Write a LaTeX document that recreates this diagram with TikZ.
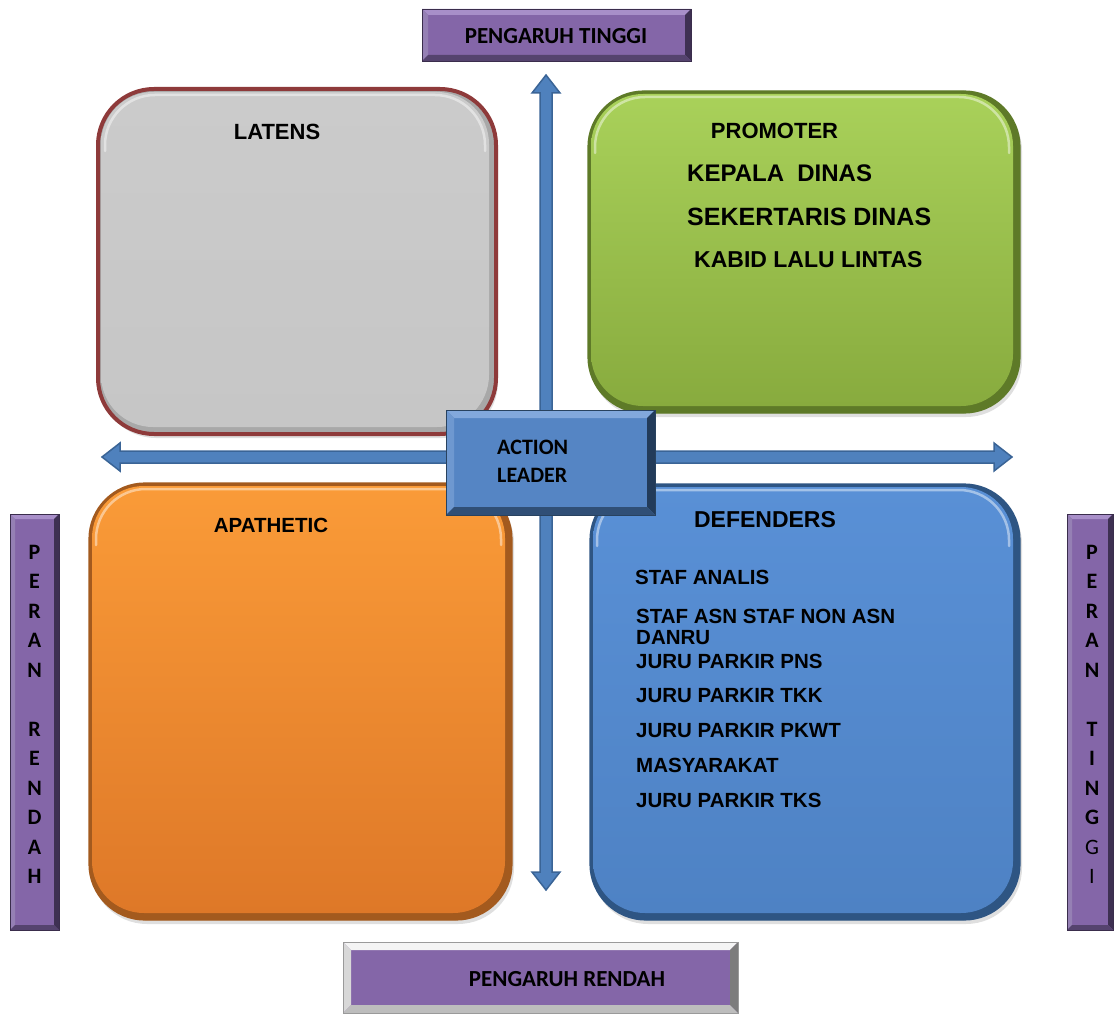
\documentclass[tikz,border=0pt]{standalone}
\usepackage{fontspec}
\setmainfont{Liberation Sans}
\newfontfamily\calfont{Carlito}
\usetikzlibrary{calc,shadows}

% palette
\definecolor{purp}{HTML}{8466A8}
\definecolor{purpT}{HTML}{A88FC9}
\definecolor{purpL}{HTML}{9580B4}
\definecolor{purpR}{HTML}{3E3052}
\definecolor{purpB}{HTML}{55436E}
\definecolor{purpE}{HTML}{3A2D4C}
\definecolor{blu}{HTML}{5585C4}
\definecolor{bluT}{HTML}{82A8DC}
\definecolor{bluL}{HTML}{6E98D0}
\definecolor{bluR}{HTML}{223B5A}
\definecolor{bluB}{HTML}{304F76}
\definecolor{bluE}{HTML}{28425F}
\definecolor{arrfill}{HTML}{4F81BD}
\definecolor{arrline}{HTML}{3A6496}
\definecolor{greyT}{HTML}{CBCBCB}
\definecolor{greyB}{HTML}{C6C6C6}
\definecolor{greyD}{HTML}{A8A8A8}
\definecolor{latborder}{HTML}{8E3A3A}
\definecolor{greenT}{HTML}{A9D15A}
\definecolor{greenB}{HTML}{88AB3E}
\definecolor{greenD}{HTML}{5E7A28}
\definecolor{orangeT}{HTML}{FA9B38}
\definecolor{orangeB}{HTML}{DE7828}
\definecolor{orangeD}{HTML}{A35A1E}
\definecolor{defT}{HTML}{5990D6}
\definecolor{defB}{HTML}{4E82C4}
\definecolor{defD}{HTML}{2E5583}
\definecolor{frameT}{HTML}{F4F4F4}
\definecolor{frameL}{HTML}{D8D8D8}
\definecolor{frameR}{HTML}{7C7C7C}
\definecolor{frameB}{HTML}{BDBDBD}
\definecolor{frameE}{HTML}{9A9A9A}

\newcommand{\fsz}[2]{\fontsize{#1}{#2}\selectfont}

\tikzset{
  % flat box with four bevelled edges: fill, top, left, right, bottom, depth
  bevel/.style n args={6}{rectangle, fill=#1, inner sep=0pt,
    path picture={
      \coordinate (bnw) at (path picture bounding box.north west);
      \coordinate (bse) at (path picture bounding box.south east);
      \fill[#2] (bnw) -- (bnw -| bse) -- ($(bnw -| bse)+(-#6,#6)$) -- ($(bnw)+(#6,#6)$) -- cycle;
      \fill[#3] (bnw) -- ($(bnw)+(#6,#6)$) -- ($(bse -| bnw)+(#6,-#6)$) -- (bse -| bnw) -- cycle;
      \fill[#4] (bnw -| bse) -- (bse) -- ($(bse)+(-#6,-#6)$) -- ($(bnw -| bse)+(-#6,#6)$) -- cycle;
      \fill[#5] (bse -| bnw) -- (bse) -- ($(bse)+(-#6,-#6)$) -- ($(bse -| bnw)+(#6,-#6)$) -- cycle;
    }},
  purplebox/.style={bevel={purp}{purpT}{purpL}{purpR}{purpB}{#1}, draw=purpE, line width=0.8pt},
  % rounded quadrant with a shaded face inside a darker rim
  quad/.style n args={4}{rounded corners=56pt, fill=#3, draw=#4, line width=1.2pt,
    drop shadow={opacity=0.25, shadow xshift=2pt, shadow yshift=-4pt},
    path picture={
      \coordinate (qnw) at (path picture bounding box.north west);
      \coordinate (qse) at (path picture bounding box.south east);
      \shade[top color=#1, bottom color=#2, rounded corners=52pt]
        ($(qnw)+(3,3)$) rectangle ($(qse)+(-7,-7)$);
      \draw[white, opacity=0.45, line width=2.5pt, rounded corners=50pt, line cap=round]
        ($(qnw)+(7,62)$) |- ($(qnw -| qse)+(-11,6)$) -- ($(qnw -| qse)+(-11,62)$);
    }},
  blockarrow/.style={fill=arrfill, draw=arrline, line width=1.5pt, line join=miter},
  title/.style={font=\bfseries\fsz{#1}{#1}, inner sep=0pt},
  item/.style={font=\bfseries\fsz{#1}{21}, inner sep=0pt, anchor=west},
  cal/.style={font=\calfont\bfseries\fsz{#1}{#1}, inner sep=0pt},
  calstack/.style={font=\calfont\bfseries\fsz{22}{#1}, inner sep=0pt},
}

\begin{document}
\begin{tikzpicture}[x=1pt,y=-1pt]
\useasboundingbox (0,0) rectangle (1115,1016);

% axis end points
\coordinate (vt) at (546,75);
\coordinate (vb) at (546,890);
\coordinate (hl) at (102,457);
\coordinate (hr) at (1012,457);

% vertical double-headed block arrow
\draw[blockarrow] (vt) -- ($(vt)+(14,18)$) -- ($(vt)+(6,18)$) -- ($(vb)+(6,-18)$)
  -- ($(vb)+(14,-18)$) -- (vb) -- ($(vb)+(-14,-18)$) -- ($(vb)+(-6,-18)$)
  -- ($(vt)+(-6,18)$) -- ($(vt)+(-14,18)$) -- cycle;
% horizontal double-headed block arrow
\draw[blockarrow] (hl) -- ($(hl)+(18,-14)$) -- ($(hl)+(18,-6)$) -- ($(hr)+(-18,-6)$)
  -- ($(hr)+(-18,-14)$) -- (hr) -- ($(hr)+(-18,14)$) -- ($(hr)+(-18,6)$)
  -- ($(hl)+(18,6)$) -- ($(hl)+(18,14)$) -- cycle;

% quadrants
\node[quad={greyT}{greyB}{greyD}{latborder}, line width=4pt,
      minimum width=398pt, minimum height=345pt] (lat) at (297,261.5) {};
\node[quad={greenT}{greenB}{greenD}{greenD},
      minimum width=432pt, minimum height=322pt] (prom) at (804,252) {};
\node[quad={orangeT}{orangeB}{orangeD}{orangeD},
      minimum width=423pt, minimum height=437pt] (apa) at (300.5,701.5) {};
\node[quad={defT}{defB}{defD}{defD},
      minimum width=430pt, minimum height=436pt] (def) at (805,702) {};

% quadrant texts
\node[title=22] (tlat) at (277,132) {LATENS};
\node[title=22] (tprom) at (774.5,131) {PROMOTER};
\node[item=24] (p1) at (687,173) {KEPALA\ \ DINAS};
\node[item=25] (p2) at (687,217) {SEKERTARIS DINAS};
\node[item=23] (p3) at (694,260) {KABID LALU LINTAS};
\node[title=20.5] (tapa) at (271,525) {APATHETIC};
\node[title=23] (tdef) at (765,520) {DEFENDERS};
\node[item=20.5] (d1) at (635,577) {STAF ANALIS};
\node[item=20.5, align=left] (d2) at (636,626.5)
  {STAF ASN STAF NON ASN\\DANRU};
\node[item=20.5] (d3) at (636,661) {JURU PARKIR\ PNS};
\node[item=20.5] (d4) at (636,696) {JURU PARKIR\ TKK};
\node[item=20.5] (d5) at (636,731) {JURU PARKIR PKWT};
\node[item=20.5] (d6) at (636,765) {MASYARAKAT};
\node[item=20.5] (d7) at (636,800) {JURU PARKIR TKS};

% centre box
\node[bevel={blu}{bluT}{bluL}{bluR}{bluB}{8}, draw=bluE, line width=0.8pt,
      minimum width=209pt, minimum height=105pt] (act) at (550.5,462.5) {};
\node[calstack=28, align=left, anchor=west] (tact) at (497,461)
  {ACTION\\LEADER};

% axis labels
\node[purplebox=6, minimum width=269pt, minimum height=52pt] (ptop) at (556.5,35) {};
\node[cal=23] (tptop) at (556,36) {PENGARUH TINGGI};

\node[bevel={purp}{frameT}{frameL}{frameR}{frameB}{8}, draw=frameE, line width=0.6pt,
      minimum width=395pt, minimum height=71pt] (pbot) at (540.5,977.5) {};
\node[cal=23] (tpbot) at (567,979) {PENGARUH RENDAH};

\node[purplebox=5, minimum width=49pt, minimum height=416pt] (pl) at (34.5,722) {};
\node[calstack=29.5, align=center, anchor=north] (tpl) at (34.5,545)
  {P\\E\\R\\A\\N\\[29.5pt]R\\E\\N\\D\\A\\H};

\node[purplebox=5, minimum width=46pt, minimum height=416pt] (pr) at (1090,722) {};
\node[calstack=29.5, align=center, anchor=north] (tpr) at (1092,545)
  {P\\E\\R\\A\\N\\[29.5pt]T\\I\\N\\G\\{\mdseries G}\\{\mdseries I}};
\end{tikzpicture}
\end{document}
